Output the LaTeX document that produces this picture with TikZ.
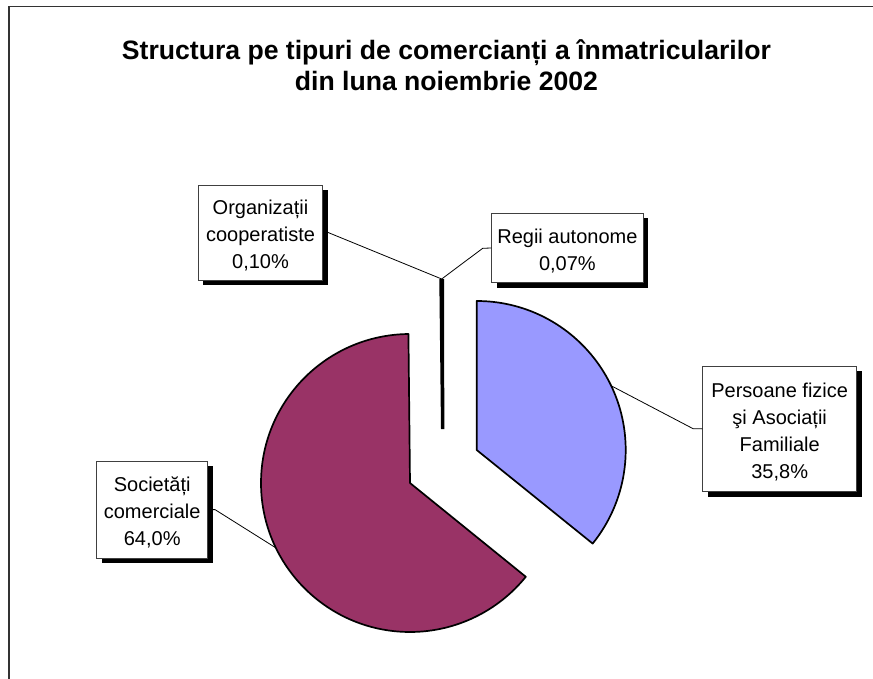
\documentclass[tikz,border=0pt]{standalone}
\usepackage{fontspec}
\setmainfont{Liberation Sans}
\usetikzlibrary{shadows,calc}
\definecolor{magslice}{HTML}{993366}
\definecolor{blueslice}{HTML}{9999FF}
\newcommand{\lnst}{\rule[-4.5pt]{0pt}{27pt}}
\tikzset{
  pieedge/.style={draw=black, line width=1.7pt, line join=round},
  leader/.style={draw=black, line width=0.8pt},
  boxlabel/.style={draw=black!75, fill=white, line width=0.8pt, inner sep=0pt,
    align=center, font=\fontsize{20}{27}\selectfont,
    drop shadow={shadow xshift=5pt, shadow yshift=-5pt, opacity=1, fill=black}},
  titletext/.style={font=\fontsize{26.6}{31}\selectfont\bfseries, inner sep=0pt, anchor=base}
}
\begin{document}
\begin{tikzpicture}[x=1pt,y=1pt]
\useasboundingbox (0,0) rectangle (873,-679);
% frame
\draw[line width=1.5pt, black!80] (9,-690) -- (9,-6.5) -- (890,-6.5);
% title
\node[titletext] (title1) at (446.4,-59.3) {Structura pe tipuri de comercianți a înmatricularilor};
\node[titletext] (title2) at (446.4,-90.8) {din luna noiembrie 2002};
% pie
\coordinate (M) at (410,-483);
\coordinate (B) at (476.7,-450);
\draw[pieedge, fill=magslice] (M) -- ++(90.6:149) arc[start angle=90.6, end angle=321, radius=149] -- cycle;
\draw[pieedge, fill=blueslice] (B) -- ++(90:149) arc[start angle=90, end angle=-38.9, radius=149] -- cycle;
\fill[black] (439.3,-279) -- (444.1,-279) -- (444.3,-429) -- (441,-429) -- cycle;
\coordinate (barTop) at (441.7,-279);
\coordinate (magMid) at ($(M)+(205.8:149)$);
\coordinate (blueMid) at ($(B)+(25.55:149)$);
\coordinate (regBend) at (482.7,-248.3);
\coordinate (persBend) at (693.3,-428.8);
\coordinate (socBend) at (215,-509.6);
% label boxes
\path (260.5,-232.5) node[boxlabel, minimum width=124.4pt, minimum height=95pt] (org) {\lnst Organizații\\\lnst cooperatiste\\\lnst 0,10\%};
\path (567.4,-248) node[boxlabel, minimum width=151.4pt, minimum height=69.4pt] (reg) {\lnst Regii autonome\\\lnst 0,07\%};
\path (779.7,-428.85) node[boxlabel, minimum width=154pt, minimum height=125.7pt] (pers) {\lnst Persoane fizice\\\lnst şi Asociații\\\lnst Familiale\\\lnst 35,8\%};
\path (152.2,-509.65) node[boxlabel, minimum width=111pt, minimum height=97.3pt] (soc) {\lnst Societăți\\\lnst comerciale\\\lnst 64,0\%};
% leaders
\draw[leader] ($(org.east)+(5,0)$) -- (barTop);
\draw[leader] (barTop) -- (regBend) -- (reg.west);
\draw[leader] (blueMid) -- (persBend) -- (pers.west);
\draw[leader] ($(soc.east)+(5,0)$) -- (socBend) -- (magMid);
\end{tikzpicture}
\end{document}
